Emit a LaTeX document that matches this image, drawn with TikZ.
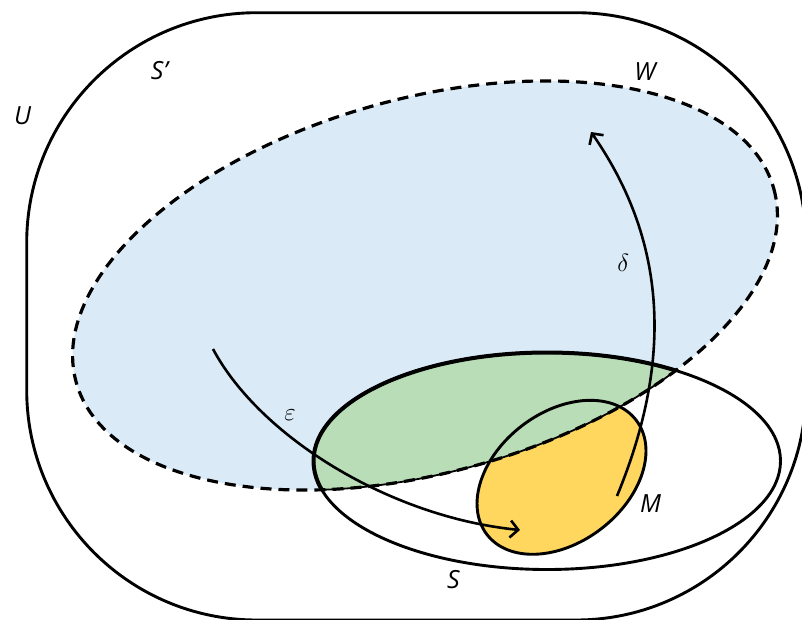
\documentclass[tikz,border=0pt]{standalone}
\usepackage{fontspec}
\setmainfont{Open Sans}
\usetikzlibrary{arrows.meta}
\definecolor{wblue}{HTML}{DAEBF7}
\definecolor{sgreen}{HTML}{B9DDB6}
\definecolor{myellow}{HTML}{FFD75E}
\begin{document}
\begin{tikzpicture}[x=1pt,y=-1pt,
  Wtr/.style={shift={(425,285.5)},rotate=15.5},
  Str/.style={shift={(547,461)}},
  Mtr/.style={shift={(561.5,477.3)},rotate=37.4},
  outline/.style={line width=2.9pt},
  lbl/.style={font=\fontsize{25}{30}\selectfont\itshape, inner sep=0pt},
  mlbl/.style={font=\fontsize{29}{32}\selectfont, inner sep=0pt},
  arr/.style={line width=2.6pt, -{Straight Barb[length=8pt,width=17pt]}}
]
\path[use as bounding box] (0,0) rectangle (802,619);
\clip (0,0) rectangle (802,619);
% fills
\fill[wblue, Wtr] (0,0) ellipse [x radius=362, y radius=187];
\fill[myellow, Mtr] (0,0) ellipse [x radius=94, y radius=65];
\begin{scope}
  \clip[Str] (0,0) ellipse [x radius=233.5, y radius=108.5];
  \fill[sgreen, Wtr] (0,0) ellipse [x radius=362, y radius=187];
\end{scope}
% outlines
\draw[outline, rounded corners=230pt] (26.7,12.7) rectangle (806,620);
\draw[outline, Str] (0,0) ellipse [x radius=233.5, y radius=108.5];
\begin{scope}
  \clip[Wtr] (0,0) ellipse [x radius=362, y radius=187];
  \draw[line width=4pt, Str] (0,0) ellipse [x radius=233.5, y radius=108.5];
\end{scope}
\draw[outline, Mtr] (0,0) ellipse [x radius=94, y radius=65];
\begin{scope}
  \clip[Str] (0,0) ellipse [x radius=233.5, y radius=108.5];
  \draw[line width=1.8pt, Wtr] (0,0) ellipse [x radius=362, y radius=187];
\end{scope}
\draw[line width=3.2pt, dash pattern=on 11pt off 7pt, Wtr] (0,0) ellipse [x radius=362, y radius=187];
% arrows
\coordinate (e0) at (213,349);
\coordinate (e1) at (520,530);
\draw[arr] (e0) .. controls (260,437) and (390,517) .. (e1);
\coordinate (d0) at (617,496);
\coordinate (d1) at (591,132);
\draw[arr] (d0) .. controls (670.2,367.2) and (670.8,246.8) .. (d1);
% labels
\node[lbl] (U) at (22.7,116) {U};
\node[lbl] (Sp) at (159.3,70.7) {S’};
\node[lbl] (W) at (645,71.7) {W};
\node[lbl] (S) at (453.3,579.3) {S};
\node[lbl] (M) at (650.7,503.3) {M};
\node[mlbl] (eps) at (290,415) {$\varepsilon$};
\node[mlbl] (del) at (623.3,263.3) {$\delta$};
\end{tikzpicture}
\end{document}
